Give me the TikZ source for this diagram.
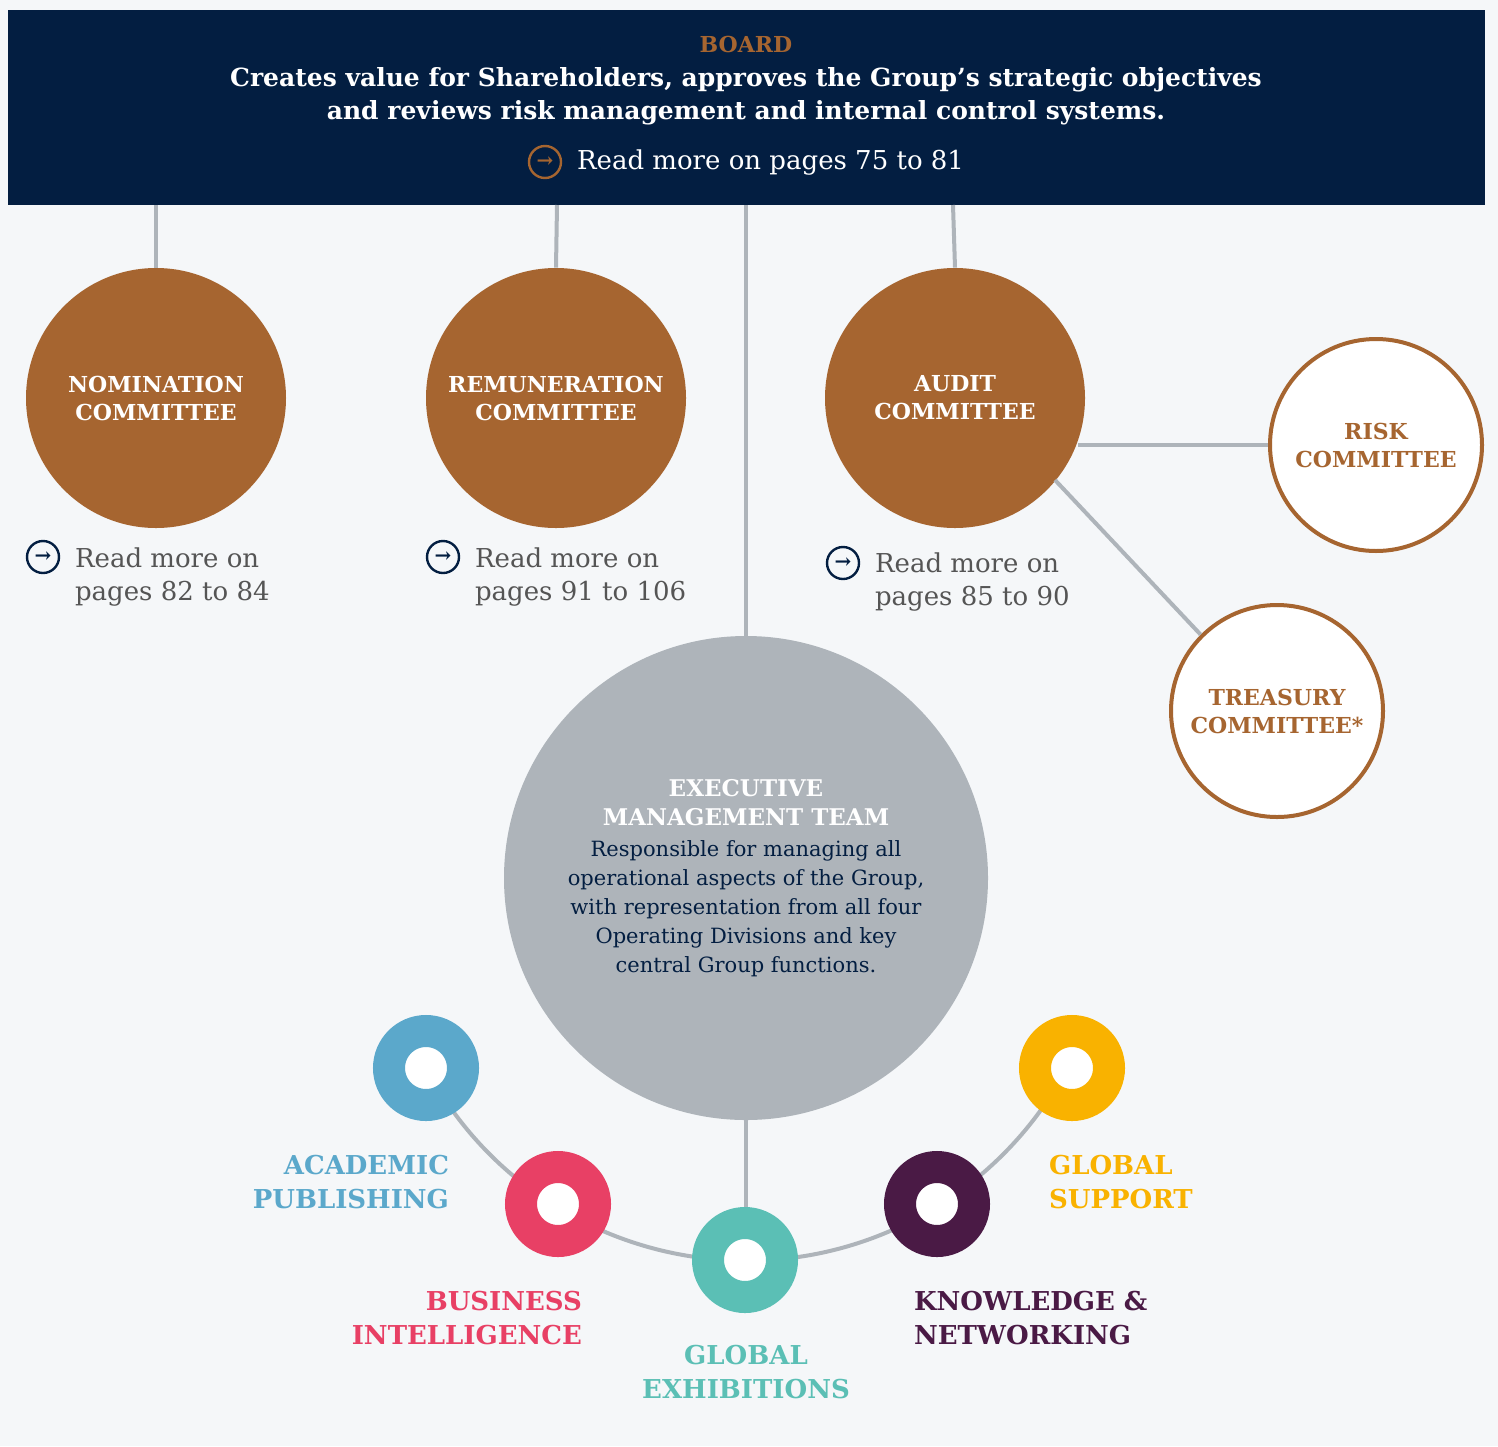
\documentclass[tikz,border=0pt]{standalone}
\usepackage{fontspec}
\setmainfont{DejaVu Serif}
\begin{document}
\begin{tikzpicture}[x=0.5pt,y=0.5pt]
\definecolor{bg}{HTML}{F5F7F9}
\definecolor{navy}{HTML}{031E41}
\definecolor{bronze}{HTML}{A66530}
\definecolor{lgray}{HTML}{AEB4BA}
\definecolor{tgray}{HTML}{555555}
\definecolor{cacad}{HTML}{5BA8CB}
\definecolor{cbus}{HTML}{E84065}
\definecolor{cexh}{HTML}{5BBFB5}
\definecolor{ckno}{HTML}{4A1A45}
\definecolor{csup}{HTML}{F9B200}
\tikzset{
 conn/.style={draw=lgray,line width=2pt},
 comm/.style={circle,fill=bronze,minimum size=130pt,inner sep=0,text=white,font=\bfseries\fontsize{11}{14}\selectfont,align=center},
 subc/.style={circle,fill=white,draw=bronze,line width=2pt,minimum size=106pt,inner sep=0,text=bronze,font=\bfseries\fontsize{11}{14}\selectfont,align=center},
 ring/.style={circle,draw=#1,line width=16pt,minimum size=37pt,inner sep=0,fill=white},
 divlab/.style={font=\bfseries\fontsize{13}{17}\selectfont,text=#1},
 more/.style={font=\fontsize{13}{16.5}\selectfont,text=tgray,align=left,anchor=west},
 icon/.style={circle,draw=#1,line width=1.2pt,minimum size=16pt,inner sep=0,text=#1,font=\bfseries\fontsize{10}{10}\selectfont}
}
\useasboundingbox (0,0) rectangle (1498,-1446);
\fill[bg] (0,0) rectangle (1498,-1446);
\node[fill=navy,minimum width=738.5pt,minimum height=97.5pt,inner sep=0,anchor=north west] (board) at (8,-10) {};
\node[text=bronze,font=\bfseries\fontsize{11}{13}\selectfont] (bt) at (746,-44) {BOARD};
\node[text=white,font=\bfseries\fontsize{12.5}{16.5}\selectfont,align=center] (bd) at (746,-96) {Creates value for Shareholders, approves the Group’s strategic objectives\\and reviews risk management and internal control systems.};
\node[icon=bronze] (bi) at (545,-162) {→};
\node[text=white,font=\fontsize{13}{16}\selectfont,anchor=west] (bm) at (570,-163) {Read more on pages 75 to 81};

\node[comm] (nom) at (156,-398) {NOMINATION\\COMMITTEE};
\node[comm] (rem) at (556,-398) {REMUNERATION\\COMMITTEE};
\node[comm] (aud) at (955,-398) {AUDIT\\COMMITTEE};
\node[subc] (risk) at (1376,-445) {RISK\\COMMITTEE};
\node[subc] (tre) at (1277,-711) {TREASURY\\COMMITTEE*};

\coordinate (b1) at (156,-205); \coordinate (b2) at (557,-205);
\coordinate (b3) at (746,-205); \coordinate (b4) at (953,-205);
\draw[conn] (b1) -- (nom.north);
\draw[conn] (b2) -- (rem.north);
\draw[conn] (b4) -- (aud.north);
\draw[conn] (b3) -- (746,-640);
\coordinate (ar) at (1078,-445);
\draw[conn] (ar) -- (risk.west);
\coordinate (at) at (1055,-480);
\draw[conn] (at) -- (tre.135);

\draw[conn] (426,-1068) arc[start angle=208,end angle=332,radius=363];
\coordinate (eb0) at (746,-1260);
\draw[conn] (746,-1110) -- (eb0);

\node[circle,fill=lgray,minimum size=242pt,inner sep=0] (exe) at (746,-878) {};
\node[text=white,font=\bfseries\fontsize{11.5}{14.5}\selectfont,align=center] (et) at (746,-803) {EXECUTIVE\\MANAGEMENT TEAM};
\node[text=navy,font=\fontsize{10.5}{14.5}\selectfont,align=center] (eb) at (746,-909) {Responsible for managing all\\operational aspects of the Group,\\with representation from all four\\Operating Divisions and key\\central Group functions.};

\node[ring=cacad] (acad) at (426,-1068) {};
\node[ring=cbus] (bus) at (558,-1204) {};
\node[ring=cexh] (exh) at (745,-1260) {};
\node[ring=ckno] (kno) at (937,-1204) {};
\node[ring=csup] (sup) at (1072,-1068) {};

\node[divlab=cacad,align=right,anchor=east] (la) at (456,-1182) {ACADEMIC\\PUBLISHING};
\node[divlab=cbus,align=right,anchor=east] (lb) at (589,-1318) {BUSINESS\\INTELLIGENCE};
\node[divlab=cexh,align=center] (le) at (746,-1372) {GLOBAL\\EXHIBITIONS};
\node[divlab=ckno,align=left,anchor=west] (lk) at (907,-1318) {KNOWLEDGE \&\\NETWORKING};
\node[divlab=csup,align=left,anchor=west] (ls) at (1042,-1182) {GLOBAL\\SUPPORT};

\node[icon=navy] (i1) at (43,-557) {→};
\node[more] (m1) at (68,-577) {Read more on\\pages 82 to 84};
\node[icon=navy] (i2) at (443,-557) {→};
\node[more] (m2) at (468,-577) {Read more on\\pages 91 to 106};
\node[icon=navy] (i3) at (843,-563) {→};
\node[more] (m3) at (868,-582) {Read more on\\pages 85 to 90};
\end{tikzpicture}
\end{document}
